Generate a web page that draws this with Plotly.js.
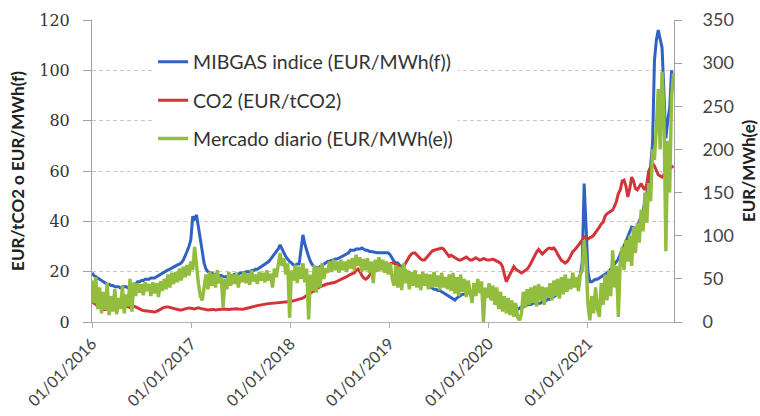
<!DOCTYPE html>
<html>
<head>
<meta charset="utf-8">
<script src="https://cdn.plot.ly/plotly-3.0.1.min.js"></script>
<style>
  html, body { margin: 0; padding: 0; background: #ffffff; }
  #chart { width: 760px; height: 416px; }
</style>
</head>
<body>
<div id="chart"></div>
<script>
// Weekly series, first value on 01/01/2016
const startDate = '2016-01-01';
const weekMs = 7 * 24 * 3600 * 1000;

const seriesNames = ['MIBGAS indice (EUR/MWh(f))', 'CO2 (EUR/tCO2)', 'Mercado diario (EUR/MWh(e))'];

// MIBGAS index, EUR/MWh (left axis)
const mibgasValues = [
  19.5, 18.5, 18, 17.5, 17, 16.7, 16, 15.5, 15, 15,
  14.5, 14.5, 14, 14, 14, 13.5, 14, 14, 14, 13.5,
  14, 14, 14.5, 15, 16, 16, 16.5, 16.5, 17, 17,
  17, 17.5, 17.5, 17.5, 18, 18.5, 19, 19.5, 20, 20.5,
  20.7, 21, 21.5, 22, 22.5, 22.7, 23, 23.5, 24.5, 26,
  28, 30, 32.6, 42, 41, 42.5, 38, 34, 28, 23.4,
  21, 20, 19.5, 19.5, 19, 19, 18.5, 18.5, 18.5, 18,
  18, 18, 18.5, 18.5, 18.5, 19, 19, 19, 19.5, 19.5,
  19.5, 20, 20, 20, 20.5, 20.5, 21, 21, 21.5, 22,
  22.5, 22.7, 23.5, 24, 25, 26, 27, 28, 29, 30.6,
  29, 27.5, 26, 25, 24, 23.5, 22.7, 22.5, 23, 23,
  28, 34.6, 31, 28, 26, 24, 22.7, 22, 21.5, 21.5,
  22, 22.5, 23, 23.5, 24, 24, 24.5, 24.5, 25, 25,
  25.4, 25.5, 26, 26.5, 27, 27.5, 28.6, 28.5, 28.5, 29,
  29, 29, 29.4, 29, 28.5, 28.5, 28, 28, 27.8, 27.5,
  27.5, 27.5, 27.4, 27.4, 27.5, 27.5, 27.4, 26.6, 25.5, 24,
  23.5, 23.4, 22.5, 22, 21, 20.5, 20, 19.5, 19, 18.5,
  18, 17.5, 17, 16.5, 16, 15.5, 15, 14.5, 14, 13.5,
  13, 13, 12.5, 12.5, 12, 11.5, 11, 10.5, 10, 9.5,
  9, 8.7, 9.5, 10, 10.5, 11, 11, 11.5, 11.5, 12,
  12, 12, 12.5, 12.5, 12, 12, 11.5, 11, 11, 10.5,
  10, 9.5, 9, 8.5, 8, 7.5, 7, 6.5, 6, 5.5,
  5, 5, 4.8, 4.8, 5, 5.5, 6, 6, 6.5, 6.8,
  7, 7, 7.5, 7.5, 7.5, 7.5, 7.5, 8, 8, 8.5,
  9, 9, 9.5, 10, 10.5, 11, 11.5, 12, 12.5, 13,
  13.5, 14, 14.5, 15, 15.5, 16, 17, 19, 24, 55,
  38, 20, 16, 16, 16.5, 17, 17, 17.5, 18, 18.5,
  19, 19.5, 20, 21, 22, 23, 24, 25, 27, 28.5,
  30, 32, 34, 36, 37.7, 37.5, 37, 38, 40, 42,
  44, 48, 52, 55, 62, 71, 104, 112, 116, 112,
  109, 91, 73, 80, 85, 100, 94
];

// CO2 allowance price, EUR/tCO2 (left axis)
const co2Values = [
  8, 7.5, 7, 6.5, 6, 5.5, 5, 5, 5.2, 5.3,
  5.5, 5.6, 5.8, 6, 6.2, 6, 6.2, 6.4, 6.2, 6,
  5.8, 6, 6.2, 6, 5.5, 5, 4.8, 4.6, 4.5, 4.3,
  4.2, 4, 4, 4, 4.2, 4.5, 5, 5.5, 5.8, 6,
  6, 5.8, 5.5, 5.2, 5, 4.8, 4.8, 4.8, 5, 5.2,
  5.5, 5.6, 5.5, 5.3, 5.2, 5.4, 5.6, 5.4, 5.2, 5,
  4.9, 4.8, 4.9, 5, 5, 4.8, 4.8, 5, 5.1, 5.2,
  5.1, 5, 5, 5.1, 5.2, 5.3, 5.3, 5.2, 5, 5.1,
  5.2, 5.4, 5.8, 6, 6.2, 6.4, 6.5, 6.6, 6.7, 6.8,
  7, 7.1, 7.2, 7.3, 7.4, 7.5, 7.5, 7.6, 7.6, 7.7,
  7.8, 7.8, 7.9, 8, 8, 8.2, 8.5, 8.8, 9, 9.2,
  9.5, 9.5, 10, 10.5, 11, 11.5, 12, 12.7, 13.2, 13.6,
  14, 14.3, 14.7, 15, 15.2, 15.3, 15.4, 15.5, 15.8, 16.2,
  16.5, 17, 17.3, 17.5, 18, 18.5, 19, 19.2, 19.5, 20.5,
  21, 20, 18.5, 17.5, 17, 17.5, 18.5, 19.5, 20.5, 21,
  21.5, 21, 21.5, 22, 22, 22.5, 23, 23.2, 23.4, 23.4,
  22.7, 22.5, 21.5, 21.5, 22, 23.5, 25, 26, 27, 27.4,
  27.4, 26.5, 25.5, 25, 24.6, 24.6, 25.5, 26.5, 27.5, 28.2,
  28.5, 28.8, 29, 29.2, 29.4, 29, 28, 27, 26, 26.5,
  26, 25.5, 25, 24.6, 24.6, 25, 25.5, 25.8, 25.2, 24.6,
  24.6, 25, 25.5, 25, 24.6, 24.8, 25.2, 25, 24.6, 24.6,
  24.8, 25, 24.6, 24.2, 24, 23.4, 22, 19, 16, 17.5,
  19, 20.7, 22, 21, 20.5, 20, 19.5, 20, 20.5, 21,
  22, 23.5, 25, 26.5, 27.8, 28.8, 28, 27, 27.8, 28.5,
  29.2, 29.4, 29, 29.4, 28.5, 27, 25.5, 24.5, 24, 23.4,
  24, 25, 26.5, 28, 28.6, 29.8, 30.5, 31.5, 32.6, 33.8,
  33.5, 33, 33.5, 33.8, 34.5, 35.5, 36.5, 37.7, 39, 39.7,
  42, 43, 43.5, 44, 44.5, 46, 48, 51, 52.5, 56,
  56.4, 54, 49.7, 53, 57.6, 56, 53, 52.5, 54, 55,
  53.5, 52.5, 55, 60, 61.5, 63, 62, 60, 58.5, 58,
  57.6, 58.5, 60, 61, 62, 61.5, 62
];

// Day-ahead market (Mercado diario), EUR/MWh (right axis)
const poolValues = [
  48, 22, 52, 15, 40, 10, 35, 14, 45, 8,
  30, 12, 38, 9, 28, 15, 42, 10, 32, 18,
  50, 12, 46, 30, 45, 34, 44, 31, 46, 36,
  44, 30, 46, 33, 45, 29, 47, 36, 50, 38,
  55, 40, 57, 44, 58, 46, 62, 48, 64, 52,
  66, 54, 70, 60, 87, 62, 45, 30, 25, 40,
  55, 38, 58, 42, 56, 40, 60, 45, 52, 17,
  50, 38, 58, 42, 55, 44, 57, 40, 54, 46,
  58, 45, 56, 43, 60, 47, 55, 44, 58, 48,
  57, 46, 60, 48, 56, 40, 62, 52, 70, 80,
  65, 74, 55, 68, 5, 60, 48, 66, 45, 64,
  50, 68, 46, 62, 3, 55, 36, 66, 34, 64,
  40, 68, 50, 62, 57, 70, 58, 72, 60, 70,
  57, 72, 60, 70, 58, 72, 62, 74, 60, 78,
  65, 75, 58, 73, 60, 74, 57, 70, 45, 72,
  58, 75, 60, 72, 57, 70, 55, 68, 50, 42,
  66, 40, 64, 37, 68, 45, 60, 38, 58, 42,
  60, 40, 55, 37, 58, 42, 56, 38, 55, 40,
  58, 41, 54, 37, 57, 40, 52, 38, 55, 36,
  57, 33, 52, 30, 55, 35, 50, 29, 48, 32,
  22, 45, 30, 50, 34, 47, 0, 40, 28, 45,
  25, 42, 20, 40, 15, 35, 12, 30, 10, 28,
  8, 25, 6, 22, 5, 2, 10, 35, 17, 38,
  20, 40, 22, 42, 18, 44, 25, 41, 20, 40,
  28, 45, 25, 48, 30, 50, 27, 52, 32, 55,
  35, 50, 38, 57, 40, 52, 36, 55, 60, 95,
  70, 20, 2, 30, 10, 40, 15, 6, 45, 20,
  55, 25, 60, 30, 83, 40, 65, 6, 70, 87,
  60, 95, 70, 100, 65, 110, 80, 115, 92, 130,
  105, 150, 115, 161, 140, 200, 188, 226, 270, 200,
  290, 240, 82, 210, 150, 260, 288
];

const leftTicks = [0, 20, 40, 60, 80, 100, 120];
const rightTicks = [0, 50, 100, 150, 200, 250, 300, 350];

const sans = 'Lato, "Open Sans", sans-serif';

const traces = [
  {
    name: seriesNames[0], y: mibgasValues, x0: startDate, dx: weekMs,
    type: 'scatter', mode: 'lines', yaxis: 'y', legendgroup: 'g1',
    line: { color: '#3062C2', width: 3 }
  },
  {
    name: seriesNames[1], y: co2Values, x0: startDate, dx: weekMs,
    type: 'scatter', mode: 'lines', yaxis: 'y', legendgroup: 'g2',
    line: { color: '#D3343A', width: 3 }
  },
  {
    name: seriesNames[2], y: poolValues, x0: startDate, dx: weekMs,
    type: 'scatter', mode: 'lines', yaxis: 'y2', legendgroup: 'g3',
    line: { color: '#93BD3E', width: 3.4 }
  }
];

const layout = {
  width: 760, height: 416,
  margin: { l: 92, r: 86, t: 20, b: 94, pad: 0 },
  paper_bgcolor: '#ffffff', plot_bgcolor: '#ffffff',
  showlegend: true,
  legend: {
    x: 0.105, y: 0.925, xanchor: 'left', yanchor: 'top',
    bgcolor: '#ffffff', borderwidth: 0,
    traceorder: 'grouped', tracegroupgap: 10,
    font: { family: sans, size: 19.5, color: '#333333' }
  },
  xaxis: {
    type: 'date',
    range: ['2016-01-01', '2021-11-14'],
    tick0: '2016-01-01', dtick: 'M12', tickformat: '%d/%m/%Y',
    tickangle: -45,
    tickfont: { family: sans, size: 16, color: '#444444' },
    showgrid: false, zeroline: false,
    showline: true, linecolor: '#b0b0b0', linewidth: 1,
    ticks: 'outside', ticklen: 5, tickcolor: '#b0b0b0'
  },
  yaxis: {
    range: [0, 120], tickvals: leftTicks,
    tickfont: { family: '"DejaVu Serif", "Liberation Serif", serif', size: 16, color: '#333333' },
    showgrid: true, gridcolor: '#c8c8c8', griddash: '4px,3px', gridwidth: 1,
    zeroline: false, showline: true, linecolor: '#a0a0a0', linewidth: 1,
    ticks: 'outside', ticklen: 8, tickcolor: '#a0a0a0',
    ticklabelstandoff: 10,
    title: { text: 'EUR/tCO2 o EUR/MWh(f)', standoff: 10,
      font: { family: sans, size: 17, color: '#222222', weight: 'bold' } }
  },
  yaxis2: {
    range: [0, 350], tickvals: rightTicks,
    overlaying: 'y', side: 'right',
    tickfont: { family: sans, size: 18, color: '#444444' },
    showgrid: false, zeroline: false,
    showline: true, linecolor: '#a0a0a0', linewidth: 1,
    ticks: 'outside', ticklen: 7, tickcolor: '#a0a0a0',
    ticklabelstandoff: 17,
    title: { text: 'EUR/MWh(e)', standoff: 10,
      font: { family: sans, size: 17, color: '#222222', weight: 'bold' } }
  }
};

Plotly.newPlot('chart', traces, layout, { displayModeBar: false, staticPlot: true });
</script>
</body>
</html>
